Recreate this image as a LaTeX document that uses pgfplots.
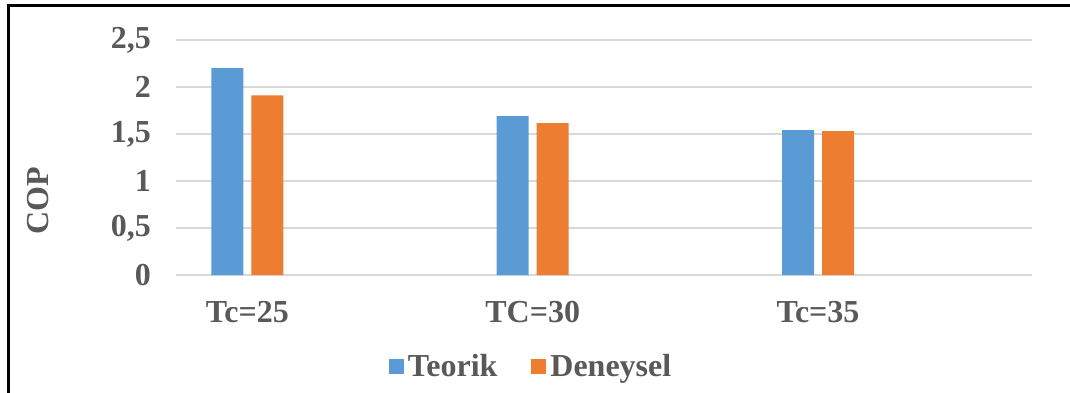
\documentclass[border=0pt]{standalone}
\usepackage{fontspec}
\setmainfont{Liberation Serif}
\usepackage{pgfplots}
\pgfplotsset{compat=1.18}
\definecolor{teorik}{HTML}{5B9BD5}
\definecolor{deneysel}{HTML}{ED7D31}
\definecolor{txt}{HTML}{595959}
\definecolor{grd}{HTML}{D9D9D9}
\pgfplotsset{sqlegend/.style={legend image code/.code={\fill[##1] (0pt,-3.75pt) rectangle (7.5pt,3.75pt);}}}
\begin{document}
\begin{tikzpicture}
\useasboundingbox (0,0) rectangle (535pt,196pt);
% chart frame (right and bottom sides fall outside the picture)
\draw[line width=1.6pt] (4.25pt,-10pt) -- (4.25pt,193.25pt) -- (545pt,193.25pt);
\begin{axis}[
  at={(88pt,58.5pt)}, anchor=south west,
  scale only axis, width=428pt, height=117.5pt,
  ybar=4pt, bar width=16pt,
  xmin=-0.25, xmax=2.75, ymin=0, ymax=2.5,
  ytick={0,0.5,1,1.5,2,2.5},
  xtick=data, xticklabels={Tc=25,TC=30,Tc=35},
  ymajorgrids, grid style={grd, line width=0.75pt},
  axis line style={draw=none}, major tick length=0pt,
  tick label style={font=\fontsize{16}{19}\selectfont\bfseries, text=txt},
  xticklabel style={yshift=-9.5pt},
  yticklabel style={xshift=-9pt},
  /pgf/number format/assume math mode=true,
  /pgf/number format/use comma,
  ylabel={COP},
  ylabel style={at={(axis description cs:-0.161,0.315)}, anchor=center,
    font=\fontsize{16}{19}\selectfont\bfseries, text=txt},
  legend columns=2,
  legend style={draw=none, fill=none, at={(axis description cs:0.416,-0.39)},
    anchor=center, font=\fontsize{16}{19}\selectfont\bfseries, text=txt,
    /tikz/every even column/.append style={column sep=15pt}},
]
\addplot[fill=teorik, draw=none, sqlegend]
  coordinates {(0,2.20) (1,1.69) (2,1.54)};
\addplot[fill=deneysel, draw=none, sqlegend]
  coordinates {(0,1.91) (1,1.615) (2,1.53)};
\legend{Teorik, Deneysel}
\end{axis}
\end{tikzpicture}
\end{document}
